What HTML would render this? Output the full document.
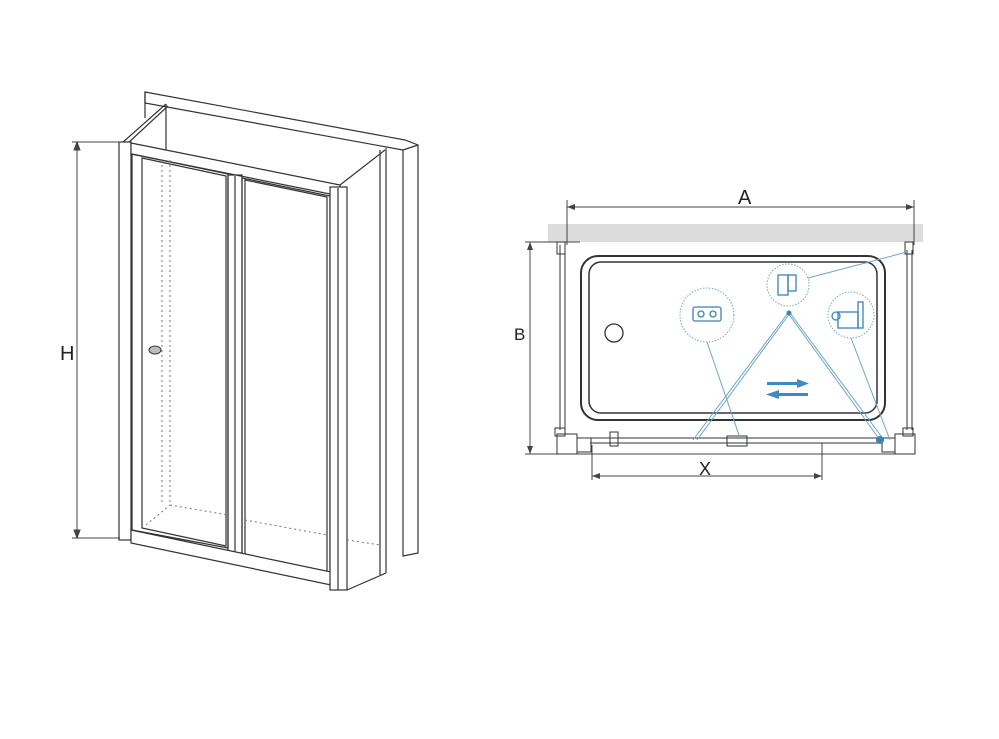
<!DOCTYPE html>
<html><head><meta charset="utf-8"><style>
html,body{margin:0;padding:0;background:#fff;}
svg{display:block;}
text{font-family:"Liberation Sans",sans-serif;fill:#222;}
</style></head><body>
<svg width="999" height="739" viewBox="0 0 999 739" xmlns="http://www.w3.org/2000/svg">
<g fill="none" stroke="#333" stroke-width="1.2">
<!-- wall slab -->
<polygon points="145,92 405,140 418,145 418,553 403,556 403,150 145,103" fill="#fff"/>
<line x1="145" y1="92" x2="145" y2="118"/>
<line x1="403" y1="150" x2="418" y2="145"/>
<!-- back frame top -->
<polyline points="122,143 166,104"/>
<polyline points="128,143 168,106"/>
<line x1="166" y1="104" x2="166" y2="160"/>
<line x1="340" y1="185" x2="385" y2="150"/>
<!-- side panel -->
<line x1="380" y1="150" x2="380" y2="575"/>
<line x1="386" y1="148" x2="386" y2="573"/>
<line x1="347" y1="590" x2="386" y2="573"/>
<!-- left post -->
<rect x="119" y="142" width="12" height="398" fill="#fff"/>
<!-- top bar -->
<polygon points="131,143 340,185 340,196 131,154" fill="#fff"/>
<!-- door panels -->
<polygon points="132,154 228,174 228,548 132,530" />
<polygon points="142,158 226,176 226,546 142,528" />
<polygon points="242,178 330,196 330,582 242,565" />
<polygon points="245,180 327,197 327,578 245,563" />
<rect x="228" y="175" width="14" height="378" />
<line x1="235" y1="176" x2="235" y2="552"/>
<!-- bottom rail -->
<polygon points="131,530 331,572 331,585 131,543" fill="#fff"/>
<!-- right post -->
<rect x="330" y="187" width="17" height="403" fill="#fff"/>
<line x1="338" y1="188" x2="338" y2="590"/>
</g>
<g fill="none" stroke="#777" stroke-width="1" stroke-dasharray="2,3">
<line x1="162" y1="160" x2="162" y2="505"/>
<line x1="170" y1="160" x2="170" y2="505"/>
<line x1="146" y1="525" x2="170" y2="505"/>
<line x1="170" y1="505" x2="228" y2="515"/>
<line x1="245" y1="520" x2="327" y2="535"/>
<line x1="347" y1="540" x2="380" y2="545"/>
</g>
<!-- handle -->
<ellipse cx="155" cy="350" rx="6" ry="4" fill="#bbb" stroke="#333"/>
<!-- H dimension -->
<g stroke="#444" stroke-width="1">
<line x1="77" y1="142" x2="77" y2="538"/>
<line x1="72" y1="142" x2="120" y2="142"/>
<line x1="72" y1="538" x2="120" y2="538"/>
<polygon points="77,142 74,150 80,150" fill="#444"/>
<polygon points="77,538 74,530 80,530" fill="#444"/>
</g>
<text x="60" y="360" font-size="20">H</text>

<!-- Right drawing -->
<rect x="548" y="224" width="375" height="18" fill="#dcdcdc"/>
<g stroke="#444" stroke-width="1" fill="none">
<line x1="567" y1="207" x2="914" y2="207"/>
<line x1="567" y1="200" x2="567" y2="245"/>
<line x1="914" y1="200" x2="914" y2="245"/>
<line x1="530" y1="242" x2="530" y2="454"/>
<line x1="525" y1="242" x2="580" y2="242"/>
<line x1="525" y1="454" x2="915" y2="454"/>
<line x1="592" y1="476" x2="822" y2="476"/>
<line x1="592" y1="445" x2="592" y2="480"/>
<line x1="822" y1="443" x2="822" y2="480"/>
</g>
<g fill="#444">
<polygon points="567,207 575,204 575,210"/><polygon points="914,207 906,204 906,210"/>
<polygon points="530,242 527,250 533,250"/><polygon points="530,454 527,446 533,446"/>
<polygon points="592,476 600,473 600,479"/><polygon points="822,476 814,473 814,479"/>
</g>
<text x="738" y="204" font-size="20">A</text>
<text x="514" y="340" font-size="17">B</text>
<text x="699" y="475" font-size="18">X</text>
<g stroke="#333" fill="none">
<rect x="581" y="256" width="304" height="164" rx="17" stroke-width="2"/>
<rect x="589" y="262" width="288" height="151" rx="12" stroke-width="1.5"/>
<circle cx="614" cy="333" r="9" stroke-width="1.3"/>
<line x1="560" y1="245" x2="560" y2="430"/><line x1="565" y1="245" x2="565" y2="430"/>
<line x1="907" y1="250" x2="907" y2="430"/><line x1="912" y1="250" x2="912" y2="430"/>
<rect x="557" y="242" width="8" height="12"/><rect x="905" y="242" width="8" height="12"/>
<line x1="590" y1="438" x2="882" y2="438"/><line x1="590" y1="443" x2="882" y2="443"/>
<rect x="557" y="434" width="20" height="20"/><rect x="577" y="438" width="14" height="14"/>
<rect x="895" y="434" width="20" height="20"/><rect x="882" y="438" width="13" height="14"/>
<rect x="727" y="436" width="20" height="10"/><rect x="610" y="432" width="8" height="14"/>
<rect x="555" y="428" width="10" height="8"/><rect x="903" y="428" width="10" height="8"/>
</g>
<g stroke="#6aa6c6" stroke-width="1" fill="none">
<line x1="788" y1="313" x2="693" y2="440"/><line x1="790" y1="313" x2="697" y2="440"/>
<line x1="788" y1="313" x2="880" y2="440"/><line x1="790" y1="313" x2="884" y2="440"/>
<line x1="707" y1="342" x2="740" y2="438"/>
<line x1="851" y1="338" x2="890" y2="440"/>
<line x1="808" y1="278" x2="907" y2="252"/>
</g>
<g stroke="#7aa" stroke-width="1" fill="#fff" stroke-dasharray="1.5,1.5">
<circle cx="707" cy="315" r="27"/><circle cx="788" cy="285" r="21"/><circle cx="851" cy="315" r="23"/>
</g>
<g stroke="#3b82b8" stroke-width="1.3" fill="none">
<rect x="693" y="307" width="28" height="14" rx="2"/><circle cx="701" cy="314" r="3"/><circle cx="713" cy="314" r="3"/>
<rect x="778" y="275" width="10" height="20"/><rect x="788" y="275" width="8" height="16"/>
<rect x="838" y="312" width="20" height="16"/><rect x="858" y="302" width="5" height="26"/><circle cx="836" cy="316" r="4"/>
</g>
<circle cx="880" cy="440" r="4" fill="#3b82b8"/>
<circle cx="789" cy="313" r="2.5" fill="#3b82b8"/>
<g fill="#3d8ac4">
<rect x="767" y="382" width="32" height="3"/><polygon points="797,379 809,383.5 797,388"/>
<rect x="777" y="393" width="31" height="3"/><polygon points="779,390 766,394.5 779,399"/>
</g>
</svg>
</body></html>
